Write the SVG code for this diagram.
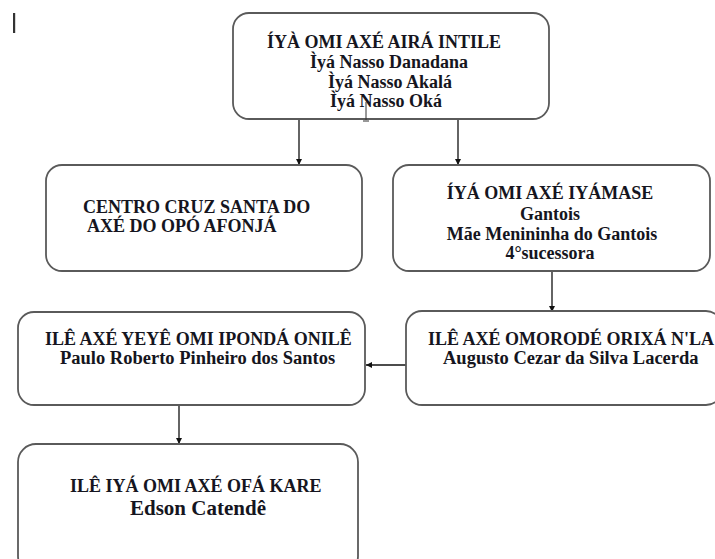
<svg xmlns="http://www.w3.org/2000/svg" width="715" height="559" viewBox="0 0 715 559">
<defs>
<style>
.box{fill:#fff;stroke:#5a5a5a;stroke-width:1.8}
.t{font-family:"Liberation Serif","Times New Roman",serif;font-weight:bold;font-size:18px;fill:#151520}
.s{font-size:18.5px}
.big{font-size:21px}
.c{text-anchor:middle}
.conn{stroke:#111;stroke-width:1.3;fill:none}
</style>
<marker id="ah" viewBox="0 0 10 10" refX="10" refY="5" markerWidth="6" markerHeight="6" orient="auto" markerUnits="userSpaceOnUse">
<path d="M0,0 L10,5 L0,10 z" fill="#111"/>
</marker>
</defs>
<rect x="13" y="13" width="2.2" height="20" fill="#333"/>
<g id="connectors">
<line class="conn" x1="299" y1="120" x2="299" y2="165" marker-end="url(#ah)"/>
<line class="conn" x1="458" y1="120" x2="458" y2="165" marker-end="url(#ah)"/>
<line class="conn" x1="552" y1="271" x2="552" y2="312" marker-end="url(#ah)"/>
<line class="conn" x1="406" y1="365" x2="366" y2="365" marker-end="url(#ah)"/>
<line class="conn" x1="179" y1="405" x2="179" y2="444" marker-end="url(#ah)"/>
</g>
<g id="n-top">
<rect class="box" x="233" y="13" width="316" height="106" rx="16"/>
<text class="t" x="267" y="48">ÍYÀ OMI AXÉ AIRÁ INTILE</text>
<text class="t" x="310" y="68">Ìyá Nasso Danadana</text>
<text class="t" x="328" y="88">Ìyá Nasso Akalá</text>
<text class="t" x="330" y="107">Ìyá Nasso Oká</text>
<path d="M366 102 L366 120 M363 121 L369 121" stroke="#333" stroke-width="1" fill="none"/>
</g>
<g id="n-centro">
<rect class="box" x="46" y="165" width="316" height="106" rx="16"/>
<text class="t" x="83" y="213">CENTRO CRUZ SANTA DO</text>
<text class="t" x="87" y="232">AXÉ DO OPÓ AFONJÁ</text>
</g>
<g id="n-gantois">
<rect class="box" x="393" y="165" width="317" height="106" rx="16"/>
<text class="t c" x="550" y="199">ÍYÁ OMI AXÉ IYÁMASE</text>
<text class="t c" x="550" y="220">Gantois</text>
<text class="t c" x="552" y="240">Mãe Menininha do Gantois</text>
<text class="t c" x="550" y="259">4°sucessora</text>
</g>
<g id="n-omorode">
<rect class="box" x="406" y="311" width="316" height="94" rx="16"/>
<text class="t" x="428" y="345">ILÊ AXÉ OMORODÉ ORIXÁ N'LA</text>
<text class="t s" x="443" y="364">Augusto Cezar da Silva Lacerda</text>
</g>
<g id="n-yeye">
<rect class="box" x="18" y="312" width="347" height="93" rx="16"/>
<text class="t" x="45" y="345">ILÊ AXÉ YEYÊ OMI IPONDÁ ONILÊ</text>
<text class="t s" x="60" y="364">Paulo Roberto Pinheiro dos Santos</text>
</g>
<g id="n-ofa">
<rect class="box" x="18" y="444" width="340" height="130" rx="18"/>
<text class="t" x="70" y="492">ILÊ IYÁ OMI AXÉ OFÁ KARE</text>
<text class="t big" x="130" y="515">Edson Catendê</text>
</g>
</svg>
